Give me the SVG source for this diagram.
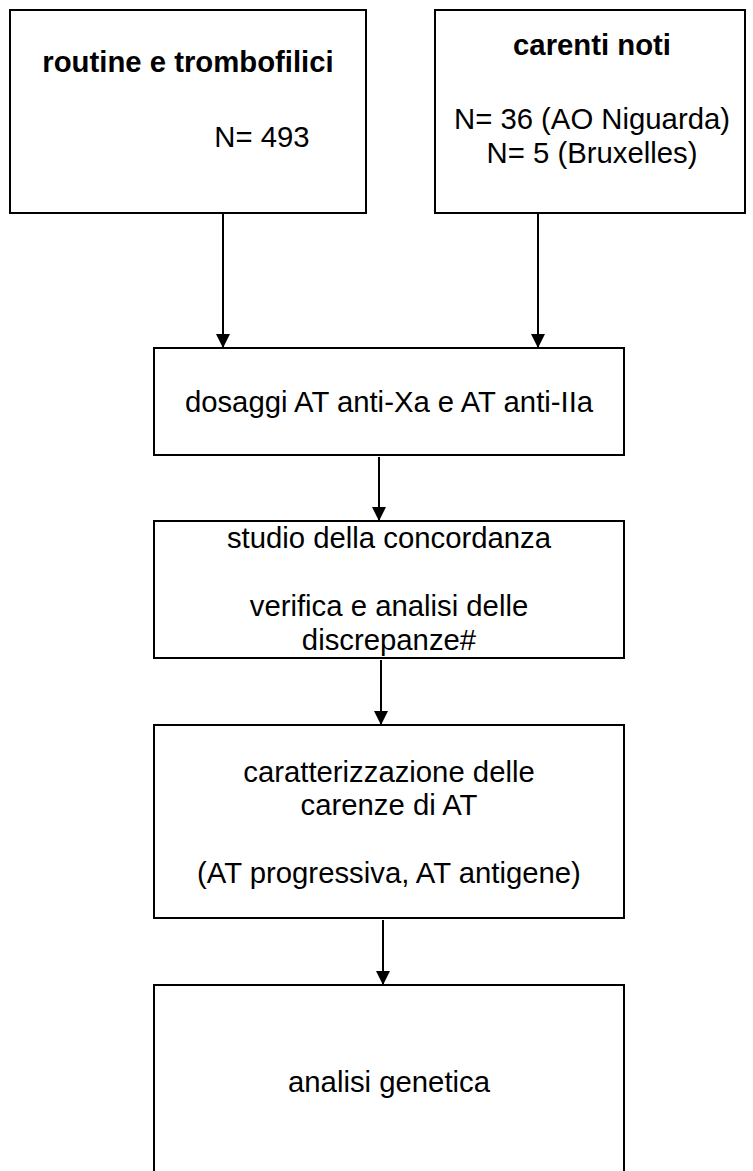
<svg xmlns="http://www.w3.org/2000/svg" width="753" height="1171" viewBox="0 0 753 1171">
<defs>
<style>
.box{fill:#fff;stroke:#000;stroke-width:2}
.t{font-family:"Liberation Sans",Arial,sans-serif;font-size:29.3px;fill:#000;text-anchor:middle}
.b{font-weight:bold}
.c{stroke:#000;stroke-width:2;fill:none;marker-end:url(#ah)}
</style>
<marker id="ah" markerWidth="14" markerHeight="14" refX="14" refY="7" orient="auto" markerUnits="userSpaceOnUse">
<path d="M0,0 L14,7 L0,14 Z" fill="#000"/>
</marker>
</defs>
<rect width="753" height="1171" fill="#fff"/>
<g id="connectors">
<line class="c" x1="223" y1="214" x2="223" y2="348"/>
<line class="c" x1="538" y1="214" x2="538" y2="348"/>
<line class="c" x1="379" y1="457" x2="379" y2="521"/>
<line class="c" x1="381" y1="660" x2="381" y2="725"/>
<line class="c" x1="383" y1="920" x2="383" y2="985"/>
</g>
<g id="n1">
<rect class="box" x="10" y="10" width="356" height="203"/>
<text class="t b" x="188" y="72">routine e trombofilici</text>
<text class="t" x="262" y="147">N= 493</text>
</g>
<g id="n2">
<rect class="box" x="435" y="10" width="310" height="203"/>
<text class="t b" x="592" y="55">carenti noti</text>
<text class="t" x="592" y="129">N= 36 (AO Niguarda)</text>
<text class="t" x="592" y="163">N= 5 (Bruxelles)</text>
</g>
<g id="n3">
<rect class="box" x="154" y="348" width="470" height="107"/>
<text class="t" x="389" y="412">dosaggi AT anti-Xa e AT anti-IIa</text>
</g>
<g id="n4">
<rect class="box" x="154" y="521" width="470" height="137"/>
<text class="t" x="389" y="548">studio della concordanza</text>
<text class="t" x="389" y="616">verifica e analisi delle</text>
<text class="t" x="389" y="650">discrepanze#</text>
</g>
<g id="n5">
<rect class="box" x="154" y="725" width="470" height="193"/>
<text class="t" x="389" y="782">caratterizzazione delle</text>
<text class="t" x="389" y="815">carenze di AT</text>
<text class="t" x="389" y="883">(AT progressiva, AT antigene)</text>
</g>
<g id="n6">
<rect class="box" x="154" y="985" width="470" height="200"/>
<text class="t" x="389" y="1092">analisi genetica</text>
</g>
</svg>
